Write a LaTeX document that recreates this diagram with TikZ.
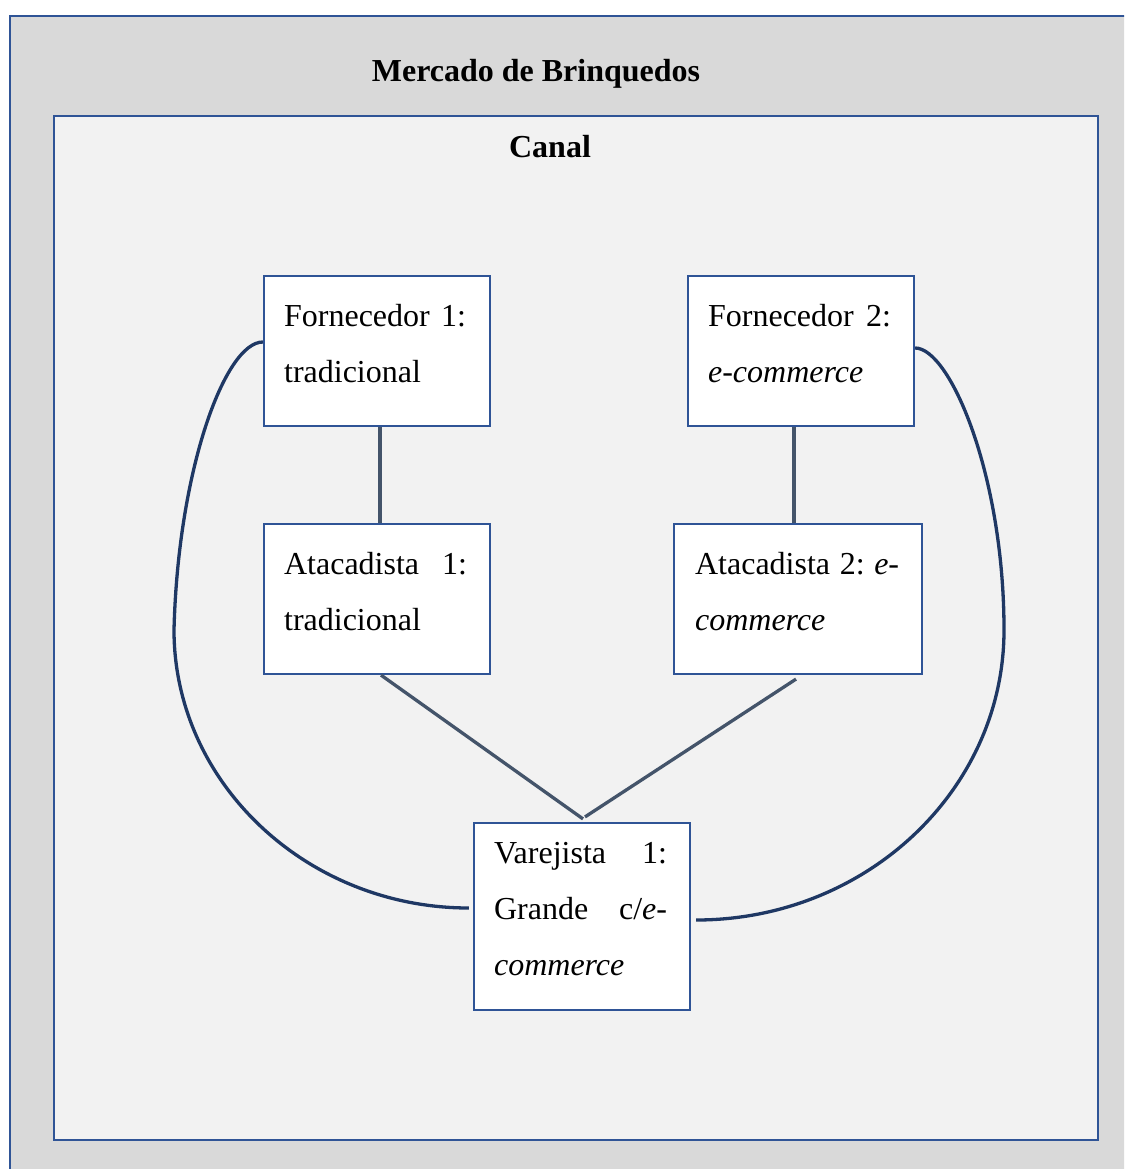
\documentclass[tikz,border=0pt]{standalone}
\usepackage{fontspec}
\setmainfont{Liberation Serif}
\usetikzlibrary{calc}
\definecolor{frameblue}{HTML}{2F5496}
\definecolor{navy}{HTML}{1F3864}
\definecolor{slate}{HTML}{44546A}
\definecolor{outergray}{HTML}{D9D9D9}
\definecolor{innergray}{HTML}{F2F2F2}
\tikzset{
  box/.style={draw=frameblue, line width=2.2pt, fill=white, rectangle, inner sep=0pt, minimum height=150pt},
  txt/.style={anchor=base west, inner sep=0pt, font=\fontsize{32}{56}\selectfont},
  ttl/.style={anchor=base, inner sep=0pt, font=\fontsize{32}{40}\selectfont\bfseries},
  link/.style={draw=slate, line width=3.3pt},
  curve/.style={draw=navy, line width=3.3pt}
}
\begin{document}
\begin{tikzpicture}[x=1pt,y=-1pt]
\useasboundingbox (0,0) rectangle (1124,1169);
\clip (0,0) rectangle (1124,1169);
\fill[white] (0,0) rectangle (1124,1169);
% frames
\draw[draw=frameblue, line width=2.2pt, fill=outergray] (10,16) rectangle (1140,1190);
\draw[draw=frameblue, line width=2.2pt, fill=innergray] (54,116) rectangle (1098,1140);
\node[ttl] (title) at (536,82) {Mercado de Brinquedos};
\node[ttl] (canal) at (550,158) {Canal};
% boxes
\node[box, minimum width=226pt] (f1) at (377,351) {};
\node[box, minimum width=226pt] (f2) at (801,351) {};
\node[box, minimum width=226pt] (a1) at (377,599) {};
\node[box, minimum width=248pt] (a2) at (798,599) {};
\node[box, minimum width=216pt, minimum height=187pt] (v) at (582,916.5) {};
% texts
\node[txt] (f1t1) at ($(f1.north west)+(21,52)$) {\hbox to 182pt{Fornecedor\hfill 1:}};
\node[txt] (f1t2) at ($(f1.north west)+(21,108)$) {tradicional};
\node[txt] (f2t1) at ($(f2.north west)+(21,52)$) {\hbox to 183pt{Fornecedor\hfill 2:}};
\node[txt] (f2t2) at ($(f2.north west)+(21,108)$) {\textit{e-commerce}};
\node[txt] (a1t1) at ($(a1.north west)+(21,52)$) {\hbox to 183pt{Atacadista\hfill 1:}};
\node[txt] (a1t2) at ($(a1.north west)+(21,108)$) {tradicional};
\node[txt] (a2t1) at ($(a2.north west)+(22,52)$) {\hbox to 204pt{Atacadista\hfill 2:\hfill \textit{e}-}};
\node[txt] (a2t2) at ($(a2.north west)+(22,108)$) {\textit{commerce}};
\node[txt] (vt1) at ($(v.north west)+(21,42)$) {\hbox to 173pt{Varejista\hfill 1:}};
\node[txt] (vt2) at ($(v.north west)+(21,98)$) {\hbox to 173pt{Grande\hfill c/\textit{e-}}};
\node[txt] (vt3) at ($(v.north west)+(21,154)$) {\textit{commerce}};
% straight connectors
\draw[link] ([xshift=3pt]f1.south) -- ([xshift=3pt]a1.north);
\draw[link] ([xshift=-7pt]f2.south) -- ([xshift=-4pt]a2.north);
\draw[link] ([xshift=4pt]a1.south) -- ([xshift=1pt,yshift=3pt]v.north);
\draw[link] ([xshift=-2pt,yshift=-4pt]a2.south) -- ([xshift=3pt,yshift=5pt]v.north);
% curved connectors
\coordinate (lm) at (174,630);
\coordinate (rm) at (1004,630);
\draw[curve] ([yshift=9pt]f1.west) .. controls (225,342) and (178,470) .. (lm)
  .. controls (174,783) and (307,908) .. ([xshift=-4pt,yshift=8.5pt]v.west);
\draw[curve] ([yshift=3pt]f2.east) .. controls (950,348) and (1004,475) .. (rm)
  .. controls (1004,790) and (866,920) .. ([xshift=5pt,yshift=-3.5pt]v.east);
\end{tikzpicture}
\end{document}
